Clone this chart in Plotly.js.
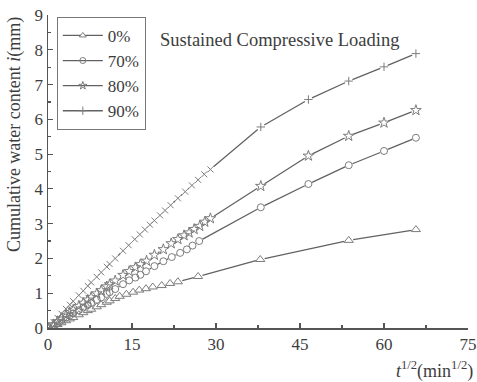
<!DOCTYPE html>
<html><head><meta charset="utf-8">
<script src="https://cdn.plot.ly/plotly-3.0.1.min.js"></script>
<style>body{margin:0;background:#fff}#chart{width:477px;height:382px}</style>
</head><body><div id="chart"></div>
<script>
// sqrt(time) in min^1/2 and cumulative water content i (mm)
const names = ['0%', '70%', '80%', '90%'];
const x0 = [0, 1.0, 1.7, 2.4, 3.2, 3.9, 4.5, 5.5, 6.3, 7.1, 7.7, 8.7, 9.5, 10.5, 11.0, 12.0, 12.8, 14.0, 15.2, 16.3, 17.5, 18.7, 20.3, 21.8, 23.2, 26.8, 37.9, 53.7, 65.7];
const y0 = [0, 0.05, 0.10, 0.15, 0.21, 0.26, 0.30, 0.38, 0.44, 0.50, 0.54, 0.61, 0.67, 0.74, 0.78, 0.85, 0.91, 0.97, 1.03, 1.09, 1.13, 1.18, 1.22, 1.28, 1.33, 1.48, 1.97, 2.52, 2.83];
const x70 = [0, 1.0, 1.7, 2.4, 3.2, 3.9, 4.5, 5.5, 6.3, 7.1, 7.7, 8.7, 9.5, 10.5, 11.0, 12.0, 13.4, 14.5, 15.6, 16.5, 17.5, 19.0, 20.6, 22.1, 23.6, 24.8, 25.8, 27.0, 38.0, 46.5, 53.7, 60.0, 65.7];
const y70 = [0, 0.08, 0.15, 0.22, 0.30, 0.36, 0.42, 0.51, 0.59, 0.66, 0.72, 0.81, 0.88, 0.98, 1.03, 1.12, 1.26, 1.37, 1.45, 1.53, 1.63, 1.78, 1.92, 2.04, 2.16, 2.26, 2.37, 2.50, 3.47, 4.14, 4.68, 5.09, 5.47];
const x80 = [0, 1.0, 1.7, 2.4, 3.2, 3.9, 4.5, 5.5, 6.3, 7.1, 7.7, 8.7, 9.5, 10.5, 11.0, 12.0, 13.4, 14.5, 15.6, 16.5, 17.6, 19.0, 20.6, 22.0, 23.2, 24.3, 25.2, 26.1, 27.1, 28.0, 29.0, 38.0, 46.5, 53.7, 60.0, 65.7];
const y80 = [0, 0.10, 0.19, 0.28, 0.37, 0.45, 0.52, 0.63, 0.72, 0.81, 0.88, 0.99, 1.08, 1.19, 1.25, 1.36, 1.52, 1.63, 1.74, 1.83, 1.93, 2.10, 2.26, 2.43, 2.55, 2.66, 2.74, 2.84, 2.93, 3.05, 3.15, 4.08, 4.95, 5.52, 5.90, 6.26];
const x90 = [0, 1.0, 1.7, 2.4, 3.2, 3.9, 4.5, 5.5, 6.3, 7.1, 7.7, 8.7, 9.5, 10.5, 11.0, 12.0, 13.4, 14.4, 15.5, 16.4, 17.3, 18.2, 19.0, 20.0, 20.9, 21.9, 23.2, 24.5, 25.7, 26.8, 27.9, 29.0, 38.0, 46.5, 53.7, 60.0, 65.7];
const y90 = [0, 0.17, 0.29, 0.41, 0.55, 0.67, 0.77, 0.94, 1.07, 1.21, 1.31, 1.47, 1.60, 1.76, 1.84, 2.00, 2.22, 2.38, 2.55, 2.69, 2.83, 2.97, 3.09, 3.24, 3.38, 3.53, 3.73, 3.92, 4.10, 4.26, 4.42, 4.56, 5.78, 6.57, 7.10, 7.51, 7.89];
const xTicks = [0, 15, 30, 45, 60, 75];
const yTicks = [0, 1, 2, 3, 4, 5, 6, 7, 8, 9];

const FONT = 'Liberation Serif, Times New Roman, serif';
const TXT = '#3d3d3d';
const LINE = '#626262';
const MK = '#7c7c7c';
const W = 477, H = 382, M = {l: 48, r: 9, t: 15, b: 54};
const XR = [0, 75], YR = [0, 9];
const sx = (W - M.l - M.r) / (XR[1] - XR[0]);
const sy = (H - M.t - M.b) / (YR[1] - YR[0]);

// connecting lines with a small gap around each symbol (as in the original plot)
function gapped(xs, ys, gap) {
  const gx = [], gy = [];
  for (let i = 0; i < xs.length - 1; i++) {
    const dx = (xs[i + 1] - xs[i]) * sx, dy = (ys[i + 1] - ys[i]) * sy;
    const d = Math.hypot(dx, dy);
    if (d <= 2 * gap + 1) continue;
    const ux = dx / d, uy = dy / d;
    gx.push(xs[i] + gap * ux / sx, xs[i + 1] - gap * ux / sx, null);
    gy.push(ys[i] + gap * uy / sy, ys[i + 1] - gap * uy / sy, null);
  }
  return [gx, gy];
}
const series = [
  {x: x0, y: y0, sym: 'triangle-up', size: 8, fill: '#fff', gap: 4.5},
  {x: x70, y: y70, sym: 'circle-open', size: 7, fill: MK, gap: 4},
  {x: x80, y: y80, sym: 'star-open', size: 8, fill: MK, gap: 4.5},
  {x: x90, y: y90, sym: x90.map((v, i) => i < x90.length - 5 ? 'x-thin-open' : 'cross-thin-open'), size: 6, fill: MK, gap: 4}
];
const data = [];
series.forEach((s, k) => {
  const g = gapped(s.x, s.y, s.gap);
  data.push({x: g[0], y: g[1], type: 'scatter', mode: 'lines', showlegend: false, hoverinfo: 'skip',
    line: {color: LINE, width: 1.3}});
  data.push({x: s.x, y: s.y, type: 'scatter', mode: 'markers', showlegend: false,
    marker: {symbol: s.sym, size: s.size, color: s.fill, line: {color: MK, width: 1}}});
});
// legend entries (no plotted points)
series.forEach((s, k) => {
  data.push({x: [null], y: [null], name: names[k], type: 'scatter', mode: 'lines+markers',
    line: {color: LINE, width: 1.3},
    marker: {symbol: Array.isArray(s.sym) ? 'cross-thin-open' : s.sym, size: 6, color: s.fill, line: {color: MK, width: 1}}});
});
const axisCommon = {showgrid: false, zeroline: false, showline: true, linecolor: '#555', linewidth: 1.5,
  ticks: 'inside', ticklen: 5, tickwidth: 1.2, tickcolor: '#555',
  tickfont: {family: FONT, size: 17, color: TXT}};
const layout = {
  width: W, height: H, paper_bgcolor: '#fff', plot_bgcolor: '#fff',
  margin: M,
  showlegend: true,
  legend: {x: 0.021, y: 0.994, xanchor: 'left', yanchor: 'top', bordercolor: '#777', borderwidth: 1,
    bgcolor: '#fff', font: {family: FONT, size: 17, color: TXT}, itemwidth: 40},
  xaxis: Object.assign({}, axisCommon, {range: XR, tickvals: xTicks, ticktext: xTicks.map(String),
    minor: {dtick: 7.5, ticks: 'inside', ticklen: 3, tickcolor: '#555'}}),
  yaxis: Object.assign({}, axisCommon, {range: YR, tickvals: yTicks, ticktext: yTicks.map(String),
    minor: {dtick: 0.5, ticks: 'inside', ticklen: 3, tickcolor: '#555'}}),
  annotations: [
    {text: 'Sustained Compressive Loading', xref: 'paper', yref: 'paper', x: 0.551, y: 0.92,
      xanchor: 'center', yanchor: 'middle', showarrow: false, font: {family: FONT, size: 18.5, color: TXT}},
    {text: 'Cumulative water content <i>i</i>(mm)', xref: 'paper', yref: 'paper', x: -0.078, y: 0.617,
      xanchor: 'center', yanchor: 'middle', textangle: -90, showarrow: false,
      font: {family: FONT, size: 18, color: TXT}},
    {text: '<i>t</i><sup>1/2</sup>(min<sup>1/2</sup>)', xref: 'paper', yref: 'paper', x: 1.017, y: -0.134,
      xanchor: 'right', yanchor: 'middle', showarrow: false,
      font: {family: FONT, size: 18, color: TXT}}
  ]
};
Plotly.newPlot('chart', data, layout, {displayModeBar: false, staticPlot: true});
</script></body></html>
